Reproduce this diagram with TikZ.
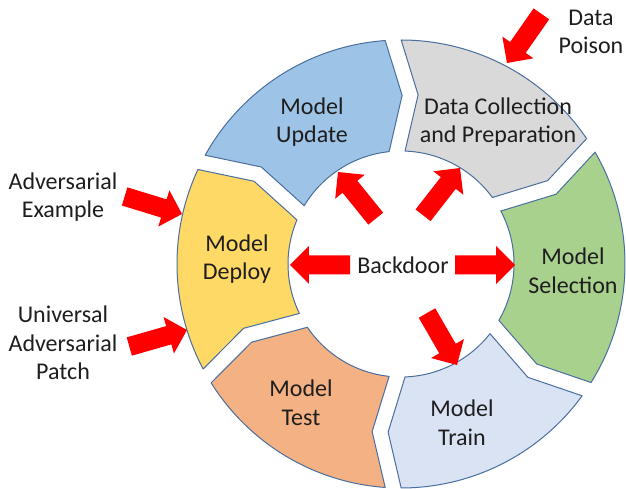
\documentclass[tikz,border=0pt]{standalone}
\usepackage{fontspec}
\setmainfont{Carlito}
\usetikzlibrary{calc}

\definecolor{segline}{HTML}{4A6E9E}
\definecolor{txt}{HTML}{1E1E1E}
\definecolor{cUpdate}{HTML}{9DC3E6}
\definecolor{cData}{HTML}{D9D9D9}
\definecolor{cSelect}{HTML}{A9D18E}
\definecolor{cTrain}{HTML}{DAE3F3}
\definecolor{cTest}{HTML}{F4B183}
\definecolor{cDeploy}{HTML}{FFD966}

% One ring segment between gap angles #1 (trailing, notched) and #2 (leading, pointed)
\newcommand\ringseg[2]{%
  (#1-2.045:224) arc[start angle=#1-2.045, end angle=#2+2.045, radius=224]
  -- ($(#2:168.5)+(#2-90:7)$)
  -- (#2+4.05:113) arc[start angle=#2+4.05, end angle=#1-4.05, radius=113]
  -- ($(#1:168.5)+(#1-90:23)$) -- cycle}

% Red block arrow whose tip sits at #1, pointing in direction #2
\newcommand\blockarrow[2]{%
  \fill[arrowfill, shift={#1}, rotate=#2]
    (0,0) -- (-19,19) -- (-19,9.5) -- (-60,9.5) -- (-60,-9.5)
    -- (-19,-9.5) -- (-19,-19) -- cycle;}

\tikzset{
  seg/.style={draw=segline, line width=1pt, line join=round},
  lbl/.style={text=txt, align=center, inner sep=0pt,
              font=\fontsize{24}{28.5}\selectfont},
  arrowfill/.style={fill=red}
}

\begin{document}
\begin{tikzpicture}[x=1pt,y=1pt]
\useasboundingbox (-401,-225) rectangle (225,264);

% ring segments, clockwise
\path[seg, fill=cData]   \ringseg{92}{32};
\path[seg, fill=cSelect] \ringseg{32}{-34};
\path[seg, fill=cTrain]  \ringseg{-34}{-92};
\path[seg, fill=cTest]   \ringseg{-92}{-150};
\path[seg, fill=cDeploy] \ringseg{-150}{-207};
\path[seg, fill=cUpdate] \ringseg{-207}{-268};

% segment labels
\node[lbl] (update)  at (-89,142)  {Model\\Update};
\node[lbl] (datacol) at (97,142)   {Data Collection\\and Preparation};
\node[lbl] (select)  at (172,-7)   {Model\\Selection};
\node[lbl] (train)   at (61,-159)  {Model\\Train};
\node[lbl] (test)    at (-100,-139){Model\\Test};
\node[lbl] (deploy)  at (-164,5)   {Model\\Deploy};
\node[lbl] (backdoor) at (2,-1)    {Backdoor};

% attack labels
\node[lbl] (advex)  at (-338,67)  {Adversarial\\Example};
\node[lbl] (uap)    at (-338,-79) {Universal\\Adversarial\\Patch};
\node[lbl] (poison) at (190,232)  {Data\\Poison};

% arrow tips on the ring
\coordinate (tPoison) at (106,201);
\coordinate (tAdv)    at (-219,50);
\coordinate (tUap)    at (-214,-66);
\coordinate (tLeft)   at (-111,-1);
\coordinate (tRight)  at (114,-1);
\coordinate (tDown)   at (56,-101);
\coordinate (tUpL)    at (-63,92);
\coordinate (tUpR)    at (59,96);

% attack arrows
\blockarrow{(tPoison)}{235}
\blockarrow{(tAdv)}{-17}
\blockarrow{(tUap)}{16}

% backdoor arrows
\blockarrow{(tLeft)}{180}
\blockarrow{(tRight)}{0}
\blockarrow{(tDown)}{-60}
\blockarrow{(tUpL)}{129}
\blockarrow{(tUpR)}{52}
\end{tikzpicture}
\end{document}
